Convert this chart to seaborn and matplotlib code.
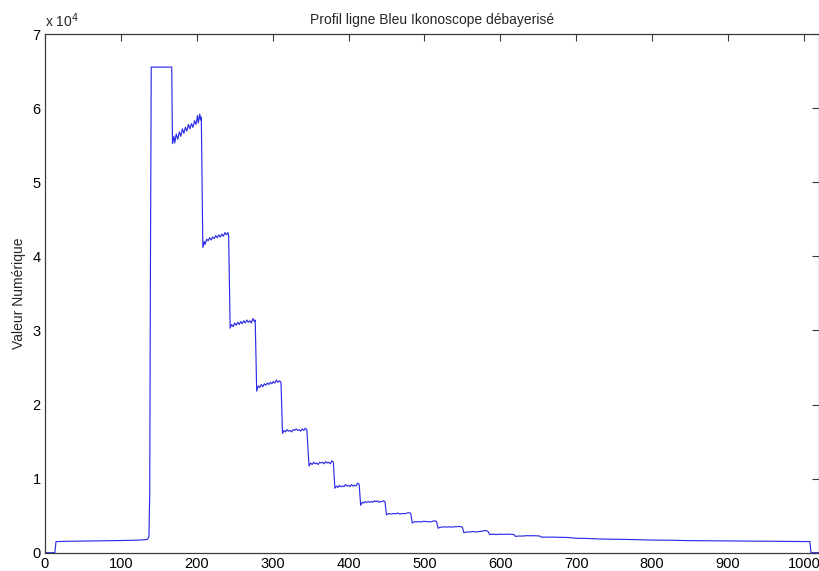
import numpy as np
import pandas as pd
import matplotlib
matplotlib.use("Agg")
import matplotlib.pyplot as plt
from matplotlib.ticker import FuncFormatter, MultipleLocator
import seaborn as sns

# Fond noir puis plateau du capteur avant la zone saturée
pixels_fond = [1, 13, 14.5, 30, 45, 60, 75, 90, 105, 120, 130, 135, 137, 138, 139, 140, 167]
valeurs_fond = [0, 0, 1500, 1540, 1560, 1580, 1600, 1620, 1650, 1690, 1740, 1800, 2200,
                8000, 40000, 65535, 65535]

# Marches de la mire (paliers bruités)
pixels_marches = [
    168, 170, 171, 173, 175, 177, 179, 181, 183, 185, 187, 189, 191, 193, 195, 197, 199, 201, 202, 204, 205, 206,
    208, 210, 211, 213, 215, 217, 219, 221, 223, 225, 227, 229, 231, 233, 235, 237, 239, 241, 242,
    244, 246, 248, 250, 252, 254, 256, 258, 260, 262, 264, 266, 268, 270, 272, 274, 276, 277,
    279, 281, 283, 285, 287, 289, 291, 293, 295, 297, 299, 301, 303, 305, 307, 309, 311,
    313, 315, 317, 319, 321, 323, 325, 327, 329, 331, 333, 335, 337, 339, 341, 343, 345,
    348, 350, 352, 354, 356, 358, 360, 362, 364, 366, 368, 370, 372, 374, 376, 378, 380,
    382, 384, 386, 388, 390, 392, 394, 396, 398, 400, 402, 404, 406, 408, 410, 412, 414,
    416, 418, 420, 422, 424, 426, 428, 430, 432, 434, 436, 438, 440, 442, 444, 446, 448,
    450, 453, 456, 459, 462, 465, 468, 471, 474, 477, 480, 482,
    484, 487, 490, 493, 496, 499, 502, 505, 508, 511, 514, 516,
    518, 521, 524, 527, 530, 533, 536, 539, 542, 545, 548, 550,
    552, 556, 560, 564, 568, 572, 576, 580, 582, 584,
    586, 590, 595, 600, 605, 610, 615, 618,
    620, 625, 630, 635, 640, 645, 650, 652,
]
valeurs_marches = [
    55200, 56200, 55300, 56500, 55800, 56800, 56200, 57200, 56600, 57400, 56900, 57800, 57200, 57900, 57400, 58300, 57800, 59000, 58000, 59200, 58400, 58800,
    41200, 42000, 41600, 42300, 42100, 42500, 42200, 42600, 42400, 42800, 42500, 42900, 42600, 43000, 42700, 43200, 42900, 43200, 42800,
    30300, 30800, 30500, 31000, 30700, 31100, 30800, 31200, 30900, 31300, 31000, 31400, 31100, 31300, 31000, 31600, 31200, 31400,
    21800, 22500, 22300, 22700, 22400, 22800, 22600, 22900, 22700, 23000, 22800, 23100, 22900, 23300, 23000, 23200, 23000,
    16100, 16500, 16300, 16600, 16400, 16500, 16300, 16600, 16500, 16700, 16500, 16600, 16400, 16700, 16500, 16800, 16600,
    11700, 12100, 11900, 12200, 12000, 12100, 11900, 12200, 12100, 12200, 12000, 12300, 12100, 12200, 12000, 12400, 12200,
    8700, 9000, 8800, 9100, 8900, 9000, 8900, 9200, 9000, 9100, 8900, 9200, 9000, 9100, 9000, 9400, 9200,
    6400, 6800, 6700, 6900, 6800, 6900, 6800, 6900, 6800, 7000, 6900, 7000, 6800, 6900, 6900, 7000, 6900,
    5100, 5300, 5200, 5300, 5250, 5350, 5200, 5300, 5250, 5350, 5400, 5300,
    4000, 4200, 4150, 4200, 4150, 4250, 4200, 4200, 4150, 4250, 4300, 4200,
    3300, 3450, 3450, 3500, 3450, 3500, 3450, 3500, 3500, 3550, 3500, 3450,
    2700, 2800, 2800, 2850, 2800, 2850, 2900, 3000, 2950, 2850,
    2450, 2500, 2450, 2500, 2480, 2500, 2480, 2450,
    2200, 2250, 2250, 2300, 2280, 2300, 2270, 2250,
]

# Décroissance lente jusqu'au bord du capteur
pixels_queue = [654, 670, 690, 700, 715, 730, 745, 760, 780, 800, 825, 850, 875, 900, 925, 950,
                975, 1000, 1008, 1009.5, 1020]
valeurs_queue = [2100, 2100, 2050, 1950, 1920, 1850, 1830, 1800, 1760, 1700, 1680, 1630, 1610,
                 1580, 1570, 1550, 1530, 1510, 1500, 0, 0]

profil = pd.DataFrame({
    "pixel": pixels_fond + pixels_marches + pixels_queue,
    "valeur": valeurs_fond + valeurs_marches + valeurs_queue,
})

sns.set_theme(style="white")
plt.rcParams["font.family"] = ["Liberation Sans", "DejaVu Sans"]

W, H = 820, 571
fig = plt.figure(figsize=(W / 100, H / 100), dpi=100)
ax = fig.add_axes([45 / W, 18.3 / H, 774 / W, 518.7 / H])

sns.lineplot(data=profil, x="pixel", y="valeur", ax=ax, sort=False, estimator=None,
             color="#2e2ee8", linewidth=0.85)

ax.set_xlim(0, 1020)
ax.set_ylim(0, 70000)
ax.xaxis.set_major_locator(MultipleLocator(100))
ax.yaxis.set_major_locator(MultipleLocator(10000))
ax.yaxis.set_major_formatter(FuncFormatter(lambda v, p: f"{v / 1e4:g}"))

for s in ax.spines.values():
    s.set_visible(True)
    s.set_color("#3a3a3a")
    s.set_linewidth(0.9)

ax.tick_params(direction="in", length=5, width=0.8, color="#3a3a3a",
               top=True, right=True, labelsize=10.5, pad=3, labelcolor="black")
ax.set_xlabel("")
ax.set_ylabel("Valeur Numérique", fontsize=10, labelpad=5)
ax.set_title("Profil ligne Bleu Ikonoscope débayerisé", fontsize=10, pad=7)
ax.text(0.0, 1.008, r"x 10$^4$", transform=ax.transAxes, fontsize=10,
        ha="left", va="bottom")

fig.savefig("out.png", dpi=100)
